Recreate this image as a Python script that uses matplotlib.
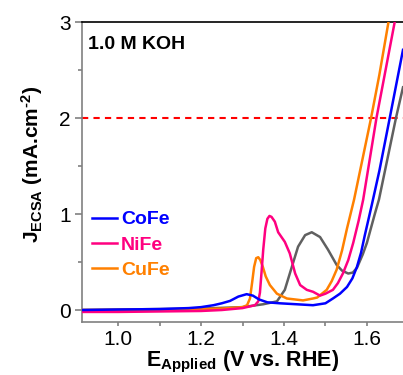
import matplotlib
matplotlib.use("Agg")
import matplotlib.pyplot as plt
from matplotlib.ticker import MultipleLocator

plt.rcParams['font.family'] = ['Liberation Sans', 'DejaVu Sans']
plt.rcParams['mathtext.fontset'] = 'custom'
plt.rcParams['mathtext.rm'] = 'Liberation Sans:bold'
plt.rcParams['mathtext.bf'] = 'Liberation Sans:bold'
plt.rcParams['mathtext.it'] = 'Liberation Sans:italic'

# ---- data ----
E_cofe = [0.91, 1.00, 1.10, 1.17, 1.20, 1.23, 1.25, 1.27, 1.29, 1.31, 1.325, 1.34, 1.36, 1.39,
          1.43, 1.47, 1.50, 1.518, 1.535, 1.552, 1.565, 1.576, 1.586, 1.595, 1.612, 1.63, 1.655, 1.687]
J_cofe = [0.0, 0.005, 0.01, 0.02, 0.03, 0.05, 0.07, 0.095, 0.14, 0.165, 0.15, 0.11, 0.08, 0.07,
          0.06, 0.05, 0.07, 0.12, 0.17, 0.24, 0.33, 0.45, 0.60, 0.78, 1.10, 1.45, 2.0, 2.71]

E_nife = [0.91, 1.00, 1.10, 1.20, 1.25, 1.30, 1.33, 1.338, 1.342, 1.346, 1.35, 1.355, 1.36, 1.365,
          1.37, 1.378, 1.386, 1.402, 1.414, 1.427, 1.439, 1.455, 1.47, 1.487, 1.50, 1.518, 1.53,
          1.542, 1.555, 1.567, 1.58, 1.591, 1.623, 1.645, 1.667]
J_nife = [-0.02, -0.02, -0.015, -0.01, 0.0, 0.02, 0.05, 0.09, 0.18, 0.40, 0.63, 0.85, 0.95, 0.98,
          0.97, 0.92, 0.81, 0.71, 0.59, 0.38, 0.26, 0.21, 0.19, 0.15, 0.17, 0.21, 0.28,
          0.38, 0.52, 0.70, 0.93, 1.15, 2.0, 2.5, 3.0]

E_cufe = [0.91, 1.00, 1.10, 1.20, 1.25, 1.30, 1.311, 1.318, 1.323, 1.328, 1.333, 1.338, 1.343,
          1.349, 1.356, 1.366, 1.383, 1.407, 1.446, 1.47, 1.48, 1.503, 1.515, 1.527, 1.54, 1.552,
          1.569, 1.61, 1.63, 1.652]
J_cufe = [0.0, 0.0, 0.005, 0.01, 0.015, 0.03, 0.05, 0.12, 0.28, 0.45, 0.54, 0.55, 0.52,
          0.45, 0.35, 0.26, 0.17, 0.12, 0.10, 0.12, 0.13, 0.21, 0.30, 0.42, 0.62, 0.85,
          1.15, 2.0, 2.45, 3.0]

E_ref = [0.91, 1.00, 1.10, 1.20, 1.30, 1.35, 1.383, 1.402, 1.419, 1.434, 1.451, 1.467, 1.487,
         1.506, 1.527, 1.54, 1.555, 1.566, 1.576, 1.59, 1.60, 1.619, 1.629, 1.67, 1.687]
J_ref = [0.0, 0.005, 0.01, 0.015, 0.03, 0.06, 0.09, 0.21, 0.45, 0.66, 0.78, 0.81, 0.76,
         0.63, 0.47, 0.41, 0.38, 0.39, 0.44, 0.58, 0.70, 1.0, 1.15, 2.0, 2.32]

target_J = 2.0
labels = ["CoFe", "NiFe", "CuFe"]
colors = ["#0000FF", "#FF0080", "#FF8000"]

fig = plt.figure(figsize=(4.03, 3.75), dpi=100)
ax = fig.add_axes([0.2035, 0.1413, 0.7965, 0.8])

lw = 1.8
ax.plot(E_ref, J_ref, color="#606060", lw=lw, zorder=2)
ax.plot(E_cufe, J_cufe, color=colors[2], lw=lw, label=labels[2], zorder=3)
ax.plot(E_nife, J_nife, color=colors[1], lw=lw, label=labels[1], zorder=3)
ax.plot(E_cofe, J_cofe, color=colors[0], lw=lw, label=labels[0], zorder=4)
ax.axhline(target_J, color="#FF0000", lw=1.5, linestyle=(0, (3, 2.5)), zorder=1)

ax.set_xlim(0.913, 1.687)
ax.set_ylim(-0.125, 3.0)
ax.xaxis.set_major_locator(MultipleLocator(0.2))
ax.xaxis.set_minor_locator(MultipleLocator(0.1))
ax.yaxis.set_major_locator(MultipleLocator(1))
ax.yaxis.set_minor_locator(MultipleLocator(0.5))
ax.set_xticks([1.0, 1.2, 1.4, 1.6])
ax.set_xticklabels(["1.0", "1.2", "1.4", "1.6"])

for s in ["left", "bottom"]:
    ax.spines[s].set_color("#808080")
    ax.spines[s].set_linewidth(1.2)
ax.spines["top"].set_color("black")
ax.spines["top"].set_linewidth(1.2)
ax.spines["right"].set_visible(False)

ax.tick_params(axis="both", which="both", direction="out", colors="#808080",
               labelcolor="black", labelsize=15)
ax.tick_params(axis="y", which="major", length=5, width=1.2, pad=3)
ax.tick_params(axis="y", which="minor", length=3, width=1.2)
ax.tick_params(axis="x", which="major", length=3, width=1.2, pad=3)
ax.tick_params(axis="x", which="minor", length=3, width=1.2)

ax.set_xlabel(r"$\mathbf{E}_{\mathbf{Applied}}$ (V vs. RHE)", fontsize=15.5,
              fontweight="bold", labelpad=0)
ax.set_ylabel(r"$\mathbf{J}_{\mathbf{ECSA}}$ (mA.cm$^{\text{-2}}$)", fontsize=15,
              fontweight="bold", labelpad=10)
ax.yaxis.label.set_y(0.525)

ax.text(0.02, 0.955, "1.0 M KOH", transform=ax.transAxes, fontsize=14,
        fontweight="bold", ha="left", va="top")

handles, labs = ax.get_legend_handles_labels()
order = [labs.index(l) for l in labels]
leg = ax.legend([handles[i] for i in order], [labs[i] for i in order],
                loc="center left", bbox_to_anchor=(0.03, 0.257), frameon=False,
                fontsize=14, handlelength=1.3, handletextpad=0.2, labelspacing=0.4,
                borderpad=0, borderaxespad=0)
for t, c in zip(leg.get_texts(), colors):
    t.set_color(c)
    t.set_fontweight("bold")

fig.savefig("out.png", dpi=100)
